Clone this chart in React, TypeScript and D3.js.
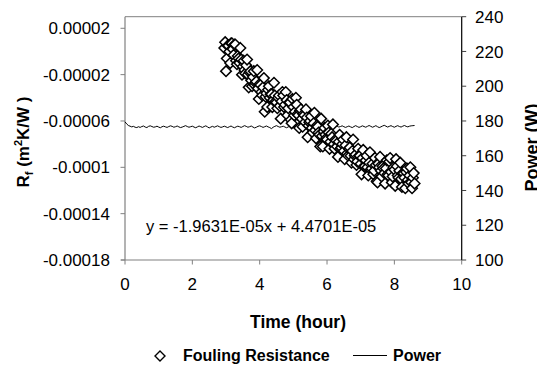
import React from 'react';
import * as d3 from 'd3';

const xTicks = [0, 2, 4, 6, 8, 10];
const leftTicks = [0.00002, -0.00002, -0.00006, -0.0001, -0.00014, -0.00018];
const leftTickLabels = ['0.00002', '-0.00002', '-0.00006', '-0.0001', '-0.00014', '-0.00018'];
const rightTicks = [100, 120, 140, 160, 180, 200, 220, 240];

// Fouling resistance, values in 1e-6 m2K/W
// run A: hours from 2.95 step 0.05
const foulingStartA = 2.95;
const foulingStepA = 0.05;
const foulingMicroA = [
  3, -17, 5, 0, 7, 2, 6, -8, -4, -10, -7, -13, -16, -12, -20, -18, -25, -22, -29, -26,
  -32, -28, -35, -31, -52, -36, -33, -40, -37, -42, -38, -44, -40, -47, -43, -38, -46, -42, -49, -44,
  -62, -48, -52, -46, -55, -51, -58, -54, -61, -57, -64, -60, -66, -62, -68, -64, -70, -82, -73, -69,
  -72, -76, -70, -78, -74, -80, -76, -82, -78, -84, -80, -86, -81, -88, -84, -90, -86, -93, -89, -95,
  -90, -97, -92, -99, -94, -100, -96, -102, -97, -103, -98, -113, -100, -103, -99, -105, -101, -106, -95, -104,
  -108, -102, -93, -107, -103, -110, -105, -109, -104, -111, -107, -113, -109, -114,
];
// run B: hours from 2.975 step 0.05
const foulingStartB = 2.975;
const foulingStepB = 0.05;
const foulingMicroB = [
  8, -6, 5, -10, 7, -3, 6, -11, -6, 3, -20, -8, -19, -7, -31, -17, -30, -17, -27, -16,
  -41, -29, -38, -23, -39, -48, -30, -37, -48, -27, -43, -49, -38, -58, -35, -48, -35, -55, -44, -59,
  -41, -55, -40, -54, -66, -50, -65, -55, -50, -74, -61, -56, -70, -53, -75, -65, -72, -58, -82, -66,
  -75, -64, -84, -71, -63, -84, -77, -91, -72, -83, -76, -93, -74, -90, -83, -96, -76, -90, -98, -84,
  -90, -106, -85, -99, -90, -107, -87, -101, -106, -92, -112, -97, -91, -108, -101, -114, -94, -107, -92, -113,
  -100, -116, -99, -109, -96, -117, -105, -118, -101, -114, -100, -118, -105,
];

// Power (W), hours from 0 step 0.05
const powerStart = 0;
const powerStep = 0.05;
const powerValue = [
  179.5, 178.3, 177.4, 177.0, 176.6, 176.9, 176.4, 176.2, 176.7, 176.3, 176.8, 177.1, 176.5, 176.2, 176.9, 177.2, 176.8, 176.4, 176.6, 177.0,
  176.5, 176.1, 176.7, 177.0, 176.6, 176.3, 176.8, 177.2, 176.9, 176.4, 176.7, 177.1, 176.6, 176.2, 176.5, 176.9, 177.3, 176.8, 176.4, 176.7,
  177.0, 176.5, 176.1, 176.6, 177.1, 176.7, 176.3, 176.8, 177.2, 176.6, 176.0, 176.5, 176.9, 176.4, 176.8, 177.2, 176.7, 176.3, 176.6, 177.0,
  176.6, 176.2, 176.7, 177.1, 176.5, 176.1, 176.6, 177.0, 176.7, 176.3, 176.8, 177.3, 176.9, 176.4, 176.7, 177.1, 176.5, 176.0, 176.4, 176.9,
  177.2, 176.8, 176.3, 176.7, 177.1, 176.6, 176.2, 175.6, 176.4, 176.9, 177.3, 176.8, 176.4, 176.7, 177.0, 176.5, 176.1, 176.6, 177.0, 176.7,
  176.3, 176.8, 177.2, 176.7, 176.2, 176.6, 177.0, 176.5, 176.1, 176.5, 176.9, 176.4, 176.8, 177.3, 176.9, 176.4, 176.7, 177.1, 176.6, 176.2,
  176.6, 177.0, 176.5, 176.1, 176.7, 177.4, 177.0, 176.5, 176.8, 177.2, 176.7, 176.3, 176.7, 177.1, 176.6, 176.2, 176.8, 177.3, 176.8, 176.3,
  176.7, 177.2, 176.8, 176.4, 176.9, 177.4, 176.9, 176.4, 176.8, 177.3, 176.7, 176.2, 176.6, 177.1, 177.5, 177.0, 176.5, 176.9, 177.3, 176.8,
  176.4, 176.9, 177.3, 176.8, 176.5, 177.0, 177.4, 176.9, 176.6, 177.0, 177.2, 177.3, 177.4,
];

const equationText = 'y = -1.9631E-05x + 4.4701E-05';
const xTitle = 'Time (hour)';
const rightTitle = 'Power (W)';
const legendLabels = ['Fouling Resistance', 'Power'];

const W = 537;
const H = 367;
const L = 125;
const R = 461.7;
const T = 16.7;
const B = 260;
const FONT = 'Liberation Sans, Arial, sans-serif';

export default function App() {
  const x = d3.scaleLinear().domain([0, 10]).range([L, R]);
  const yL = d3.scaleLinear().domain([-0.00018, 0.00003]).range([B, T]);
  const yR = d3.scaleLinear().domain([100, 240]).range([B, T]);

  const runA = foulingMicroA.map((v, i) => ({ t: foulingStartA + i * foulingStepA, v: v * 1e-6 }));
  const runB = foulingMicroB.map((v, i) => ({ t: foulingStartB + i * foulingStepB, v: v * 1e-6 }));
  const fouling: { t: number; v: number }[] = [];
  for (let i = 0; i < runA.length; i++) {
    fouling.push(runA[i]);
    if (runB[i]) fouling.push(runB[i]);
  }
  const power = powerValue.map((v, i) => ({ t: powerStart + i * powerStep, v }));

  const powerLine = d3
    .line<{ t: number; v: number }>()
    .x((d) => x(d.t))
    .y((d) => yR(d.v))(power) as string;

  const diamond = (cx: number, cy: number, r: number) =>
    `M${cx},${cy - r}L${cx + r},${cy}L${cx},${cy + r}L${cx - r},${cy}Z`;

  return (
    <svg
      width={W}
      height={H}
      style={{ position: 'absolute', left: 0, top: 0, background: '#fff' }}
      fontFamily={FONT}
    >
      <rect x={0} y={0} width={W} height={H} fill="#fff" />
      {/* plot frame */}
      <line x1={L} x2={R} y1={T} y2={T} stroke="#808080" strokeWidth={1} />
      <line x1={L} x2={L} y1={T} y2={B} stroke="#808080" strokeWidth={1.2} />
      <line x1={L - 4} x2={R} y1={B} y2={B} stroke="#808080" strokeWidth={1.2} />

      {/* left ticks */}
      {leftTicks.map((t, i) => (
        <g key={'l' + i}>
          <line x1={L - 4.5} x2={L} y1={yL(t)} y2={yL(t)} stroke="#808080" strokeWidth={1} />
          <text x={110} y={yL(t)} dy="0.36em" textAnchor="end" fontSize={17} fill="#000">
            {leftTickLabels[i]}
          </text>
        </g>
      ))}

      {/* x ticks */}
      {xTicks.map((t) => (
        <g key={'x' + t}>
          <line x1={x(t)} x2={x(t)} y1={B} y2={B + 4.5} stroke="#808080" strokeWidth={1} />
          <text x={x(t)} y={290} textAnchor="middle" fontSize={17} fill="#000">
            {t}
          </text>
        </g>
      ))}

      {/* right axis */}
      <line x1={R} x2={R} y1={T} y2={B} stroke="#000" strokeWidth={1.2} />
      {rightTicks.map((t) => (
        <g key={'r' + t}>
          <line x1={R} x2={R + 4.5} y1={yR(t)} y2={yR(t)} stroke="#404040" strokeWidth={1} />
          <text x={475} y={yR(t)} dy="0.36em" textAnchor="start" fontSize={17} fill="#000">
            {t}
          </text>
        </g>
      ))}

      {/* power line */}
      <path d={powerLine} fill="none" stroke="#000" strokeWidth={1} />

      {/* fouling points */}
      {fouling.map((d, i) => (
        <path
          key={'f' + i}
          d={diamond(x(d.t), yL(d.v), 5.3)}
          fill="#fff"
          stroke="#000"
          strokeWidth={1.5}
        />
      ))}

      {/* equation */}
      <text x={146} y={232} fontSize={16.5} fill="#000">
        {equationText}
      </text>

      {/* axis titles */}
      <text x={298} y={328} textAnchor="middle" fontSize={17.5} fontWeight="bold" fill="#000">
        {xTitle}
      </text>
      <text
        transform="translate(29,142) rotate(-90)"
        textAnchor="middle"
        fontSize={17}
        fontWeight="bold"
        fill="#000"
      >
        <tspan>R</tspan>
        <tspan fontSize={11} dy={4}>f</tspan>
        <tspan dy={-4}>{' (m'}</tspan>
        <tspan fontSize={11} dy={-7}>2</tspan>
        <tspan dy={7}>{'K/W )'}</tspan>
      </text>
      <text
        transform="translate(538,147.5) rotate(-90)"
        textAnchor="middle"
        fontSize={18}
        fontWeight="bold"
        fill="#000"
      >
        {rightTitle}
      </text>

      {/* legend */}
      <path d={diamond(160, 356, 5)} fill="#fff" stroke="#000" strokeWidth={1.4} />
      <text x={183} y={361} fontSize={16} fontWeight="bold" fill="#000">
        {legendLabels[0]}
      </text>
      <line x1={353} x2={387} y1={355.5} y2={355.5} stroke="#000" strokeWidth={1} />
      <text x={393} y={361} fontSize={16} fontWeight="bold" fill="#000">
        {legendLabels[1]}
      </text>
    </svg>
  );
}
